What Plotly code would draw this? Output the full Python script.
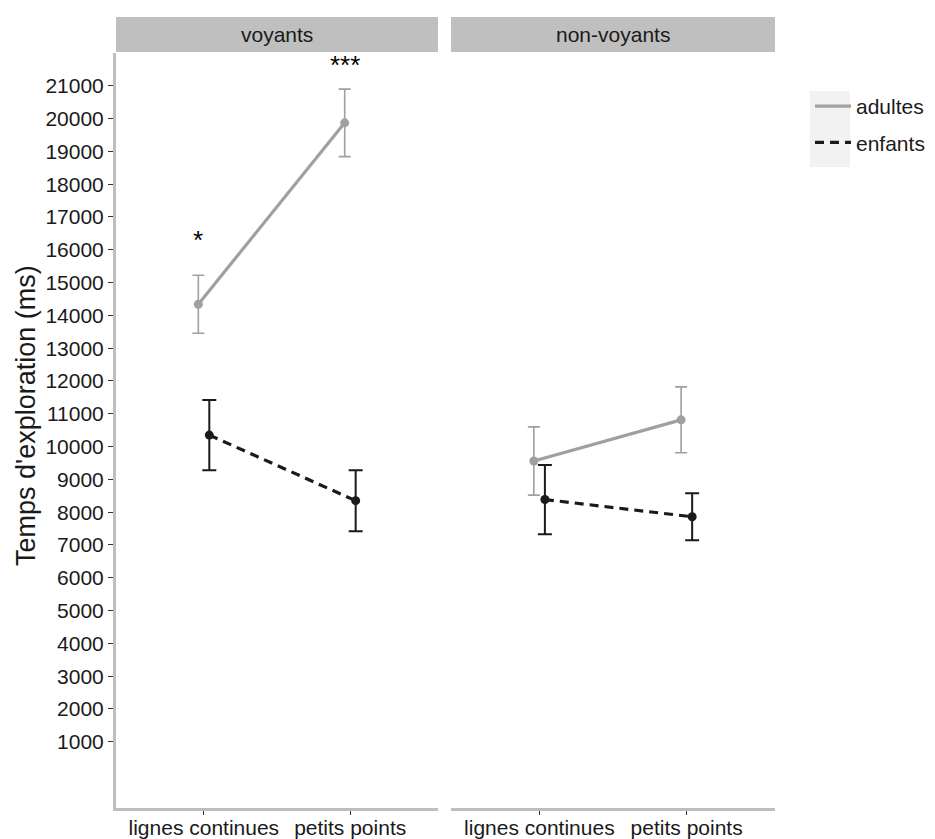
import plotly.graph_objects as go

# ---- data ----
categories = ["lignes continues", "petits points"]
panels = ["voyants", "non-voyants"]
groups = ["adultes", "enfants"]

adultes_voyants_mean = [14340, 19870]
adultes_voyants_err = [885, 1030]
enfants_voyants_mean = [10350, 8350]
enfants_voyants_err = [1070, 930]

adultes_nonvoyants_mean = [9560, 10815]
adultes_nonvoyants_err = [1040, 1005]
enfants_nonvoyants_mean = [8385, 7860]
enfants_nonvoyants_err = [1055, 720]

y_ticks = [1000, 2000, 3000, 4000, 5000, 6000, 7000, 8000, 9000, 10000,
           11000, 12000, 13000, 14000, 15000, 16000, 17000, 18000, 19000, 20000, 21000]

signif_labels = ["*", "***"]
signif_y = [16300, 21620]

# ---- style ----
WIN_W, WIN_H = 935, 839
PAGE_MARGIN = 8  # default body margin of the html page
W, H = WIN_W - PAGE_MARGIN, WIN_H - PAGE_MARGIN
FONT = "Liberation Sans, Arial, sans-serif"
GREY = "#a0a0a0"
BLACK = "#1a1a1a"
AXIS_GREY = "#bebebe"
DODGE = 0.0375

base_x = [i + 1 for i in range(len(categories))]


def px_x(p):
    return (p - PAGE_MARGIN) / W


def px_y(p):
    return 1 - (p - PAGE_MARGIN) / H


fig = go.Figure()

series = [
    ("x", "y", adultes_voyants_mean, adultes_voyants_err, enfants_voyants_mean, enfants_voyants_err, True),
    ("x2", "y2", adultes_nonvoyants_mean, adultes_nonvoyants_err, enfants_nonvoyants_mean, enfants_nonvoyants_err, False),
]

styles = {
    groups[0]: dict(color=GREY, dash="solid", off=-DODGE, eth=1.6, ew=6),
    groups[1]: dict(color=BLACK, dash="9px,6px", off=DODGE, eth=2.0, ew=7),
}

for xa, ya, am, ae, em, ee, show in series:
    for g, mean, err in ((groups[0], am, ae), (groups[1], em, ee)):
        st = styles[g]
        xs = [b + st["off"] for b in base_x]
        fig.add_trace(go.Scatter(
            x=xs, y=mean, xaxis=xa, yaxis=ya, mode="lines", name=g, legendgroup=g,
            showlegend=show, line=dict(color=st["color"], width=3.2, dash=st["dash"]),
            hoverinfo="skip",
        ))
        fig.add_trace(go.Scatter(
            x=xs, y=mean, xaxis=xa, yaxis=ya, mode="markers", name=g, legendgroup=g,
            showlegend=False, marker=dict(color=st["color"], size=9),
            error_y=dict(type="data", array=err, symmetric=True, color=st["color"],
                         thickness=st["eth"], width=st["ew"]),
        ))

# significance stars on the sighted panel (adult positions)
for i, lab in enumerate(signif_labels):
    fig.add_annotation(x=base_x[i] - DODGE, y=signif_y[i], xref="x", yref="y",
                       text=lab, showarrow=False, font=dict(size=26, color="black", family=FONT),
                       yanchor="middle")

# facet strips
strip_bounds = [(116, 438), (451, 775)]
for (a, b), lab in zip(strip_bounds, panels):
    fig.add_shape(type="rect", xref="paper", yref="paper",
                  x0=px_x(a), x1=px_x(b), y0=px_y(52), y1=px_y(17),
                  fillcolor="#bfbfbf", line=dict(width=0), layer="below")
    fig.add_annotation(x=px_x((a + b) / 2), y=px_y(34.5), xref="paper", yref="paper",
                       text=lab, showarrow=False, font=dict(size=21, color=BLACK, family=FONT),
                       xanchor="center", yanchor="middle")

# legend key background
fig.add_shape(type="rect", xref="paper", yref="paper",
              x0=px_x(810), x1=px_x(850), y0=px_y(167), y1=px_y(91),
              fillcolor="#f2f2f2", line=dict(width=0), layer="below")

# y axis title
fig.add_annotation(x=px_x(26), y=px_y(416), xref="paper", yref="paper",
                   text="Temps d'exploration (ms)", textangle=-90, showarrow=False,
                   font=dict(size=27, color=BLACK, family=FONT),
                   xanchor="center", yanchor="middle")

ydom = [px_y(808), px_y(53)]
yrange = [-1020, 22000]

xaxis_common = dict(
    range=[0.4, 2.6], tickvals=base_x, ticktext=categories, automargin=False,
    showgrid=False, zeroline=False, showline=True, linecolor=AXIS_GREY, linewidth=3,
    ticks="outside", ticklen=4, tickcolor="#333333", tickwidth=1.2, ticklabelstandoff=-5,
    tickfont=dict(size=21, color=BLACK, family=FONT), fixedrange=True,
)

fig.update_layout(
    width=W, height=H,
    margin=dict(l=0, r=0, t=0, b=0, autoexpand=False),
    paper_bgcolor="white", plot_bgcolor="white",
    font=dict(family=FONT, color=BLACK),
    xaxis=dict(domain=[px_x(116), px_x(438)], anchor="y", **xaxis_common),
    xaxis2=dict(domain=[px_x(451), px_x(775)], anchor="y2", **xaxis_common),
    yaxis=dict(domain=ydom, anchor="x", range=yrange, tickvals=y_ticks, tickformat="d",
               automargin=False,
               showgrid=False, zeroline=False, showline=True, linecolor=AXIS_GREY, linewidth=3,
               ticks="outside", ticklen=5, tickcolor="#333333", tickwidth=1.2,
               tickfont=dict(size=21, color=BLACK, family=FONT), fixedrange=True),
    yaxis2=dict(domain=ydom, anchor="x2", range=yrange, matches="y", automargin=False,
                showgrid=False, zeroline=False, showline=False, showticklabels=False,
                ticks="", fixedrange=True),
    showlegend=True,
    legend=dict(x=px_x(810), y=px_y(86), xanchor="left", yanchor="top",
                bgcolor="rgba(0,0,0,0)", borderwidth=0,
                font=dict(size=21, color=BLACK, family=FONT),
                itemwidth=36, tracegroupgap=6, traceorder="grouped"),
)

fig.write_html("out.html")
